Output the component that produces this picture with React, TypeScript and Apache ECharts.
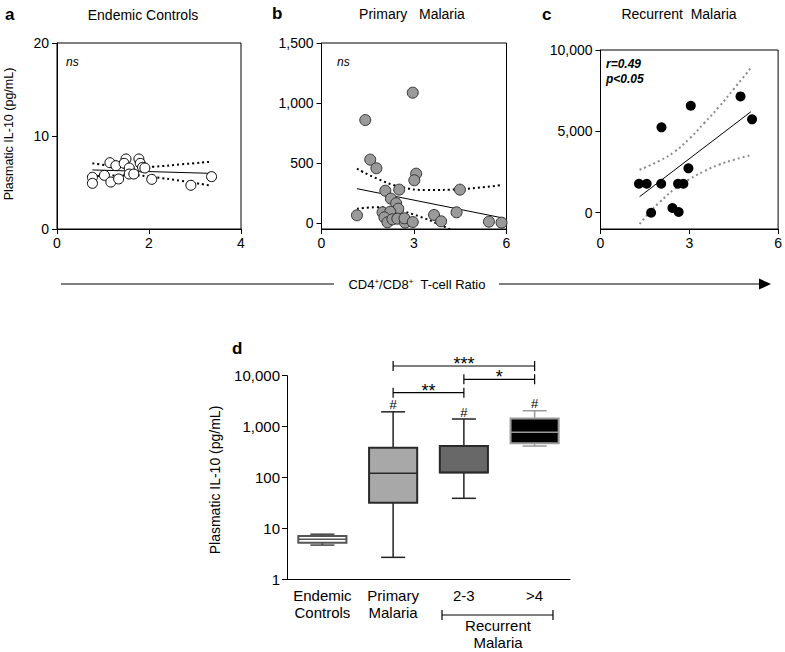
import React, { useEffect, useRef } from 'react';
import * as echarts from 'echarts';

const FONT = '"Liberation Sans", Arial, Helvetica, sans-serif';

// ---------- Panel a: Endemic Controls ----------
const endemicRatio = [0.77, 0.77, 1.03, 1.17, 1.15, 1.28, 1.34, 1.5, 1.46, 1.57, 1.57, 1.67, 1.78, 1.81, 1.86, 1.91, 2.06, 2.91, 3.36];
const endemicIL10 = [5.56, 4.91, 5.77, 5.05, 7.13, 6.81, 5.38, 7.53, 7.06, 6.56, 5.91, 5.91, 7.53, 7.06, 6.63, 6.56, 5.34, 4.7, 5.63];
const endemicFitX = [0.77, 3.36];
const endemicFitY = [6.35, 5.98];
const endemicBandX = [0.77, 1.2, 1.7, 2.1, 2.7, 3.36];
const endemicUpperY = [7.06, 6.8, 6.64, 6.7, 6.95, 7.24];
const endemicLowerY = [5.65, 5.76, 5.75, 5.58, 5.17, 4.66];

// ---------- Panel b: Primary Malaria ----------
const primaryRatio = [1.15, 1.42, 1.58, 1.78, 2.07, 2.25, 2.42, 2.49, 2.52, 1.98, 2.23, 2.04, 2.14, 2.3, 2.46, 2.71, 2.69, 2.96, 3.07, 3.01, 2.96, 3.65, 3.88, 4.38, 4.49, 5.43, 5.84];
const primaryIL10 = [64, 858, 528, 456, 269, 203, 164, 119, 278, 89, 94, 47, 6, 31, 36, 3, 39, 1086, 411, 356, 8, 67, 14, 89, 278, 11, 3];
const primaryFitX = [1.15, 5.84];
const primaryFitY = [286, 44];
const primaryUpperX = [1.15, 1.8, 2.55, 3.41, 4.49, 5.84];
const primaryUpperY = [453, 370, 303, 275, 282, 317];
const primaryLowerX = [1.15, 1.79, 2.44, 3.19, 3.8, 4.35];
const primaryLowerY = [119, 131, 108, 53, -10, -75];

// ---------- Panel c: Recurrent Malaria ----------
const recurrentRatio = [1.3, 1.56, 2.06, 2.05, 1.71, 2.43, 2.64, 2.62, 2.8, 2.97, 3.05, 4.73, 5.12];
const recurrentIL10 = [1781, 1781, 5246, 1781, 0, 289, 43, 1781, 1781, 2727, 6573, 7150, 5737];
const recurrentFitX = [1.32, 5.08];
const recurrentFitY = [983, 6204];
const recurrentUpperX = [1.32, 2.0, 2.5, 3.0, 3.5, 4.0, 4.5, 5.08];
const recurrentUpperY = [2640, 3200, 3750, 4550, 5500, 6500, 7600, 8900];
const recurrentLowerX = [1.32, 1.7, 2.0, 2.5, 3.0, 3.5, 4.0, 4.5, 5.08];
const recurrentLowerY = [-690, 100, 650, 1450, 2050, 2550, 2950, 3250, 3540];

// ---------- Panel d: box plots ----------
const groups = ['Endemic\nControls', 'Primary\nMalaria', '2-3', '>4'];
const boxMin = [4.7, 2.7, 39, 415];
const boxQ1 = [5.2, 32, 126, 470];
const boxMedian = [6.1, 121, 126, 772];
const boxQ3 = [7.1, 385, 415, 1450];
const boxMax = [7.7, 1950, 1410, 2050];
const hashMark = ['', '#', '#', '#'];
// significance brackets: from group, to group, level (pg/mL), label
const sigFrom = [1, 2, 1];
const sigTo = [3, 3, 2];
const sigLevel = [15500, 8500, 4630];
const sigLabel = ['***', '*', '**'];

const yTicksB = [0, 500, 1000, 1500];
const yTicksC = [0, 5000, 10000];

// styles
const boxFill = ['#ffffff', '#a8a8a8', '#686868', '#000000'];
const boxStroke = ['#555555', '#2a2a2a', '#2a2a2a', '#9a9a9a'];
const whiskerStroke = ['#444444', '#222222', '#222222', '#9a9a9a'];

const zip = (xs: number[], ys: number[]) => xs.map((x, i) => [x, ys[i]]);
const fmt = (v: number) => Math.round(v).toLocaleString('en-US');

const axisCommon = {
  axisLine: { show: true, onZero: false, lineStyle: { color: '#000', width: 1 } },
  axisTick: { show: true, length: 5, inside: false, lineStyle: { color: '#000', width: 1 } },
  splitLine: { show: false },
  axisLabel: { color: '#000', fontSize: 14, fontFamily: FONT },
};

export default function App() {
  const ref = useRef<HTMLDivElement>(null);

  useEffect(() => {
    if (!ref.current) return;
    const chart = echarts.init(ref.current, null, { renderer: 'svg' });

    const lineSeries = (data: number[][], idx: number, color: string, type: any, width: number, smooth: boolean) => ({
      type: 'line',
      xAxisIndex: idx,
      yAxisIndex: idx,
      data,
      showSymbol: false,
      symbol: 'none',
      smooth,
      lineStyle: { color, type, width },
      silent: true,
      z: 3,
    });

    const option: any = {
      animation: false,
      backgroundColor: '#ffffff',
      grid: [
        { left: 57, top: 43, width: 184, height: 186, show: true, borderColor: '#000', borderWidth: 1, backgroundColor: 'transparent' },
        { left: 321.5, top: 43, width: 185, height: 186, show: true, borderColor: '#000', borderWidth: 1, backgroundColor: 'transparent' },
        { left: 600.5, top: 50, width: 178, height: 179, show: true, borderColor: '#000', borderWidth: 1, backgroundColor: 'transparent' },
        { left: 287, top: 375.7, width: 283, height: 203.6 },
      ],
      xAxis: [
        { ...axisCommon, gridIndex: 0, type: 'value', min: 0, max: 4, interval: 2, axisLabel: { ...axisCommon.axisLabel, margin: 7 } },
        { ...axisCommon, gridIndex: 1, type: 'value', min: 0, max: 6, interval: 3, axisLabel: { ...axisCommon.axisLabel, margin: 7 } },
        { ...axisCommon, gridIndex: 2, type: 'value', min: 0, max: 6, interval: 3, axisLabel: { ...axisCommon.axisLabel, margin: 7 } },
        {
          ...axisCommon,
          gridIndex: 3,
          type: 'category',
          data: groups,
          boundaryGap: true,
          axisTick: { show: false },
          axisLabel: { color: '#000', fontSize: 15, fontFamily: FONT, margin: 8, lineHeight: 17, interval: 0 },
        },
      ],
      yAxis: [
        {
          ...axisCommon, gridIndex: 0, type: 'value', min: 0, max: 20, interval: 10,
          axisLabel: { ...axisCommon.axisLabel, margin: 8 },
        },
        {
          ...axisCommon, gridIndex: 1, type: 'value', min: -50, max: 1500,
          axisTick: { ...axisCommon.axisTick, customValues: yTicksB },
          axisLabel: { ...axisCommon.axisLabel, margin: 8, customValues: yTicksB, formatter: fmt },
        },
        {
          ...axisCommon, gridIndex: 2, type: 'value', min: -1000, max: 10000,
          axisTick: { ...axisCommon.axisTick, customValues: yTicksC },
          axisLabel: { ...axisCommon.axisLabel, margin: 8, customValues: yTicksC, formatter: fmt },
        },
        {
          ...axisCommon, gridIndex: 3, type: 'log', logBase: 10, min: 1, max: 10000,
          axisLabel: { ...axisCommon.axisLabel, margin: 7, fontSize: 15, formatter: fmt },
        },
      ],
      series: [
        // a
        lineSeries(zip(endemicBandX, endemicUpperY), 0, '#000', [2, 3], 2, true),
        lineSeries(zip(endemicBandX, endemicLowerY), 0, '#000', [2, 3], 2, true),
        lineSeries(zip(endemicFitX, endemicFitY), 0, '#000', 'solid', 1, false),
        {
          type: 'scatter', xAxisIndex: 0, yAxisIndex: 0, symbol: 'circle', symbolSize: 10,
          data: zip(endemicRatio, endemicIL10),
          itemStyle: { color: '#ffffff', borderColor: '#000', borderWidth: 1, opacity: 1 },
          z: 4,
        },
        // b
        lineSeries(zip(primaryUpperX, primaryUpperY), 1, '#000', [2, 3], 2, true),
        lineSeries(zip(primaryLowerX, primaryLowerY), 1, '#000', [2, 3], 2, true),
        lineSeries(zip(primaryFitX, primaryFitY), 1, '#000', 'solid', 1, false),
        {
          type: 'scatter', xAxisIndex: 1, yAxisIndex: 1, symbol: 'circle', symbolSize: 11,
          data: zip(primaryRatio, primaryIL10),
          itemStyle: { color: '#9a9a9a', borderColor: '#333', borderWidth: 1, opacity: 1 },
          z: 4,
        },
        // c
        lineSeries(zip(recurrentUpperX, recurrentUpperY), 2, '#8a8a8a', [2, 3], 2, true),
        lineSeries(zip(recurrentLowerX, recurrentLowerY), 2, '#8a8a8a', [2, 3], 2, true),
        lineSeries(zip(recurrentFitX, recurrentFitY), 2, '#000', 'solid', 1, false),
        {
          type: 'scatter', xAxisIndex: 2, yAxisIndex: 2, symbol: 'circle', symbolSize: 10,
          data: zip(recurrentRatio, recurrentIL10),
          itemStyle: { color: '#000', opacity: 1 },
          z: 4,
        },
        // d boxes
        {
          type: 'custom',
          xAxisIndex: 3,
          yAxisIndex: 3,
          clip: false,
          encode: { x: 0, y: [1, 2, 3, 4, 5] },
          data: groups.map((_, i) => [i, boxMin[i], boxQ1[i], boxMedian[i], boxQ3[i], boxMax[i]]),
          renderItem: (params: any, api: any) => {
            const i = api.value(0);
            const band = api.coord([1, 10])[0] - api.coord([0, 10])[0];
            const hw = band * 0.34;
            const cw = band * 0.17;
            const c = (v: number) => api.coord([i, v]);
            const x = c(api.value(3))[0];
            const yMin = c(api.value(1))[1];
            const yQ1 = c(api.value(2))[1];
            const yMed = c(api.value(3))[1];
            const yQ3 = c(api.value(4))[1];
            const yMax = c(api.value(5))[1];
            const ws = { stroke: whiskerStroke[i], lineWidth: 1.5 };
            const children: any[] = [
              { type: 'line', shape: { x1: x, y1: yMax, x2: x, y2: yQ3 }, style: ws },
              { type: 'line', shape: { x1: x, y1: yQ1, x2: x, y2: yMin }, style: ws },
              { type: 'line', shape: { x1: x - cw, y1: yMax, x2: x + cw, y2: yMax }, style: ws },
              { type: 'line', shape: { x1: x - cw, y1: yMin, x2: x + cw, y2: yMin }, style: ws },
              {
                type: 'rect',
                shape: { x: x - hw, y: yQ3, width: hw * 2, height: yQ1 - yQ3 },
                style: { fill: boxFill[i], stroke: boxStroke[i], lineWidth: 2 },
              },
              { type: 'line', shape: { x1: x - hw, y1: yMed, x2: x + hw, y2: yMed }, style: { stroke: boxStroke[i], lineWidth: 1.5 } },
            ];
            if (hashMark[i]) {
              children.push({
                type: 'text',
                x: x,
                y: yMax - 7,
                style: { text: hashMark[i], fill: '#000', fontSize: 13, fontFamily: FONT, align: 'center', verticalAlign: 'middle' },
              });
            }
            return { type: 'group', children };
          },
          z: 3,
        },
        // d significance brackets
        {
          type: 'custom',
          xAxisIndex: 3,
          yAxisIndex: 3,
          clip: false,
          encode: { x: [0, 1], y: 2 },
          data: sigLabel.map((_, i) => [sigFrom[i], sigTo[i], sigLevel[i]]),
          renderItem: (params: any, api: any) => {
            const p1 = api.coord([api.value(0), api.value(2)]);
            const p2 = api.coord([api.value(1), api.value(2)]);
            const st = { stroke: '#000', lineWidth: 1.2 };
            return {
              type: 'group',
              children: [
                { type: 'line', shape: { x1: p1[0], y1: p1[1], x2: p2[0], y2: p2[1] }, style: st },
                { type: 'line', shape: { x1: p1[0], y1: p1[1] - 5, x2: p1[0], y2: p1[1] + 5 }, style: st },
                { type: 'line', shape: { x1: p2[0], y1: p2[1] - 5, x2: p2[0], y2: p2[1] + 5 }, style: st },
                {
                  type: 'text',
                  x: (p1[0] + p2[0]) / 2,
                  y: p1[1] - 2,
                  style: { text: sigLabel[params.dataIndex], fill: '#000', fontSize: 18, fontFamily: FONT, align: 'center', verticalAlign: 'middle' },
                },
              ],
            };
          },
          z: 3,
        },
      ],
      graphic: [
        // panel letters & titles
        { type: 'text', x: 5, y: 14, style: { text: 'a', fill: '#000', fontSize: 17, fontWeight: 'bold', fontFamily: FONT, verticalAlign: 'middle' } },
        { type: 'text', x: 143, y: 15, style: { text: 'Endemic Controls', fill: '#000', fontSize: 14, fontFamily: FONT, align: 'center', verticalAlign: 'middle' } },
        { type: 'text', x: 272, y: 13, style: { text: 'b', fill: '#000', fontSize: 17, fontWeight: 'bold', fontFamily: FONT, verticalAlign: 'middle' } },
        { type: 'text', x: 412, y: 14, style: { text: 'Primary   Malaria', fill: '#000', fontSize: 14, fontFamily: FONT, align: 'center', verticalAlign: 'middle' } },
        { type: 'text', x: 542, y: 14, style: { text: 'c', fill: '#000', fontSize: 17, fontWeight: 'bold', fontFamily: FONT, verticalAlign: 'middle' } },
        { type: 'text', x: 679, y: 14, style: { text: 'Recurrent  Malaria', fill: '#000', fontSize: 14, fontFamily: FONT, align: 'center', verticalAlign: 'middle' } },
        { type: 'text', x: 232, y: 348, style: { text: 'd', fill: '#000', fontSize: 17, fontWeight: 'bold', fontFamily: FONT, verticalAlign: 'middle' } },
        // in-plot annotations
        { type: 'text', x: 66, y: 62, style: { text: 'ns', fill: '#000', fontSize: 12, fontStyle: 'italic', fontFamily: FONT, verticalAlign: 'middle' } },
        { type: 'text', x: 337, y: 62, style: { text: 'ns', fill: '#000', fontSize: 12, fontStyle: 'italic', fontFamily: FONT, verticalAlign: 'middle' } },
        { type: 'text', x: 606, y: 64, style: { text: 'r=0.49', fill: '#000', fontSize: 12, fontStyle: 'italic', fontWeight: 'bold', fontFamily: FONT, verticalAlign: 'middle' } },
        { type: 'text', x: 606, y: 79, style: { text: 'p<0.05', fill: '#000', fontSize: 12, fontStyle: 'italic', fontWeight: 'bold', fontFamily: FONT, verticalAlign: 'middle' } },
        // y-axis titles
        { type: 'text', x: 9, y: 134, rotation: Math.PI / 2, style: { text: 'Plasmatic IL-10 (pg/mL)', fill: '#000', fontSize: 12.5, fontFamily: FONT, align: 'center', verticalAlign: 'middle' } },
        { type: 'text', x: 215, y: 480, rotation: Math.PI / 2, style: { text: 'Plasmatic IL-10 (pg/mL)', fill: '#000', fontSize: 14, fontFamily: FONT, align: 'center', verticalAlign: 'middle' } },
        // shared x-axis arrow
        { type: 'line', shape: { x1: 61, y1: 284, x2: 334, y2: 284 }, style: { stroke: '#000', lineWidth: 1.2 } },
        { type: 'line', shape: { x1: 499, y1: 284, x2: 762, y2: 284 }, style: { stroke: '#000', lineWidth: 1.2 } },
        { type: 'polygon', shape: { points: [[759, 278.5], [771, 284], [759, 289.5]] }, style: { fill: '#000' } },
        {
          type: 'text', x: 417, y: 284,
          style: {
            text: 'CD4{sup|+}/CD8{sup|+}  T-cell Ratio',
            fill: '#000', fontSize: 13, fontFamily: FONT, align: 'center', verticalAlign: 'middle',
            rich: { sup: { fontSize: 8, fontFamily: FONT, fill: '#000', verticalAlign: 'top', padding: [0, 0, 6, 0] } },
          },
        },
        // recurrent malaria group bracket
        { type: 'line', shape: { x1: 442, y1: 615, x2: 553, y2: 615 }, style: { stroke: '#000', lineWidth: 1.2 } },
        { type: 'line', shape: { x1: 442, y1: 610, x2: 442, y2: 620 }, style: { stroke: '#000', lineWidth: 1.2 } },
        { type: 'line', shape: { x1: 553, y1: 610, x2: 553, y2: 620 }, style: { stroke: '#000', lineWidth: 1.2 } },
        { type: 'text', x: 498, y: 634, style: { text: 'Recurrent\nMalaria', fill: '#000', fontSize: 15, lineHeight: 17, fontFamily: FONT, align: 'center', verticalAlign: 'middle' } },
      ],
    };

    chart.setOption(option);
    return () => chart.dispose();
  }, []);

  return (
    <div
      ref={ref}
      style={{ position: 'fixed', left: 0, top: 0, width: 785, height: 652, background: '#fff' }}
    />
  );
}
